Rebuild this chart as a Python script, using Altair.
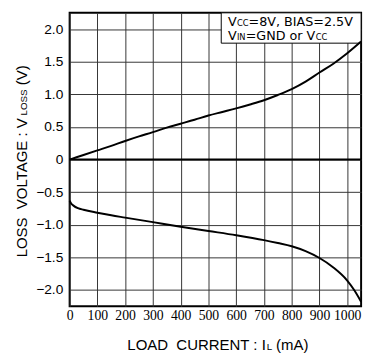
import altair as alt
import pandas as pd

# ---- data ----
upper_x = [0, 50, 100, 150, 200, 250, 300, 350, 400, 450, 500, 550, 600, 650, 700, 750, 800, 850, 900, 950, 1000, 1050]
upper_y = [0, 0.07, 0.14, 0.21, 0.285, 0.355, 0.42, 0.49, 0.55, 0.61, 0.675, 0.73, 0.785, 0.845, 0.91, 0.99, 1.08, 1.195, 1.335, 1.47, 1.63, 1.81]
lower_x = [0, 5, 15, 30, 50, 100, 150, 200, 300, 400, 500, 600, 700, 750, 800, 850, 900, 950, 1000, 1025, 1050]
lower_y = [-0.63, -0.67, -0.71, -0.745, -0.77, -0.815, -0.855, -0.89, -0.96, -1.03, -1.095, -1.16, -1.235, -1.28, -1.33, -1.405, -1.51, -1.655, -1.855, -2.0, -2.18]
x_ticks = [0, 100, 200, 300, 400, 500, 600, 700, 800, 900, 1000]
y_ticks = [-2.0, -1.5, -1.0, -0.5, 0, 0.5, 1.0, 1.5, 2.0]
x_domain = [0, 1050]
y_domain = [-2.25, 2.25]
zero_line = [0]

df = pd.concat([
    pd.DataFrame({"I": upper_x, "V": upper_y, "s": "sink"}),
    pd.DataFrame({"I": lower_x, "V": lower_y, "s": "source"}),
])

W, H = 298, 300
FONT = "Liberation Sans"
NBSP = "\u00a0"

xs = alt.Scale(domain=x_domain, nice=False, zero=False)
ys = alt.Scale(domain=y_domain, nice=False, zero=False)

x_axis = alt.Axis(values=x_ticks, grid=True, gridColor="#333", gridWidth=1,
                  domain=False, ticks=False, labelFont="Liberation Sans Narrow",
                  labelFontSize=14, labelColor="black", labelPadding=3,
                  labelFlush=False, labelOverlap=False, format="d", title=None)
y_axis = alt.Axis(values=y_ticks, grid=True, gridColor="#333", gridWidth=1,
                  domain=False, ticks=False, labelFont=FONT, labelFontSize=14,
                  labelColor="black", labelPadding=7, labelOverlap=False,
                  labelExpr="datum.value == 0 ? '0' : format(datum.value, '.1f')",
                  title=None)

curves = alt.Chart(df).mark_line(color="black", strokeWidth=2, interpolate="monotone").encode(
    x=alt.X("I:Q", scale=xs, axis=x_axis),
    y=alt.Y("V:Q", scale=ys, axis=y_axis),
    detail="s:N")

zero = alt.Chart(pd.DataFrame({"V": zero_line})).mark_rule(color="black", strokeWidth=2).encode(
    y=alt.Y("V:Q", scale=ys, axis=y_axis))

box = alt.Chart(pd.DataFrame({"a": [0]})).mark_rect(
    fill="white", stroke="black", strokeWidth=1).encode(
    x=alt.value(155), x2=alt.value(W), y=alt.value(0), y2=alt.value(31))


def txt(t, x, y, size, font=FONT, angle=0):
    kw = dict(text=t, align="left", baseline="alphabetic", fontSize=size,
              font=font, color="black")
    if angle:
        kw["angle"] = angle
    return alt.Chart(pd.DataFrame({"a": [0]})).mark_text(**kw).encode(
        x=alt.value(x), y=alt.value(y))


AF = "DejaVu Sans"
annot = [
    txt("V", 162, 13, 13, AF), txt("CC", 171, 13, 8.5, AF),
    txt("=8V, BIAS=2.5V", 183, 13, 13, AF),
    txt("V", 162, 28, 13, AF), txt("IN", 171, 28, 8.5, AF),
    txt("=GND" + NBSP + "or" + NBSP + "V", 180, 28, 13, AF), txt("CC", 251.5, 28, 8.5, AF),
]

xt = [
    txt("LOAD" + NBSP + NBSP + "CURRENT : I", 59, 345, 15.3),
    txt("L", 201.5, 345, 10),
    txt("(mA)", 211, 345, 15.3),
]

yt = [
    txt("LOSS" + NBSP + NBSP + "VOLTAGE : V", -44, 250, 15.3, angle=270),
    txt("LOSS", -44, 105.0, 10, angle=270),
    txt("(V)", -44, 74.0, 15.3, angle=270),
]

chart = alt.layer(box, curves, zero, *annot, *xt, *yt).properties(
    width=W, height=H,
    autosize=alt.AutoSizeParams(type="none"),
    padding={"left": 63, "top": 1, "right": 5, "bottom": 52},
).configure_view(stroke="black", strokeWidth=2)

chart.save("out.html", embed_options={"renderer": "svg", "actions": False})
